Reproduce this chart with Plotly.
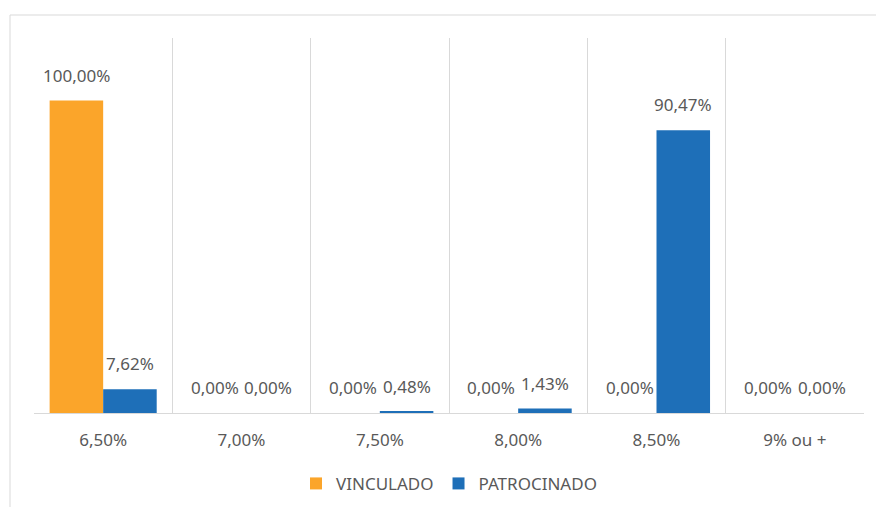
import plotly.graph_objects as go

categories = ["6,50%", "7,00%", "7,50%", "8,00%", "8,50%", "9% ou +"]
vinculado = [100.00, 0.00, 0.00, 0.00, 0.00, 0.00]
patrocinado = [7.62, 0.00, 0.48, 1.43, 90.47, 0.00]
series_names = ["VINCULADO", "PATROCINADO"]
colors = ["#FBA52A", "#1E6FB8"]

FONT = "Noto Sans"
FS = 17
TXT = "#595959"
GRID = "#D9D9D9"


def fmt(v):
    return f"{v:.2f}".replace(".", ",") + "%"


fig = go.Figure()
for name, vals, col in zip(series_names, [vinculado, patrocinado], colors):
    fig.add_trace(go.Bar(x=categories, y=vals, name=name, marker=dict(color=col, line=dict(width=0)),
                         hoverinfo="skip"))

annotations = []
for vals, shift in [(vinculado, -26.8), (patrocinado, 26.8)]:
    for c, v in zip(categories, vals):
        annotations.append(dict(x=c, y=v, xref="x", yref="y", text=fmt(v), showarrow=False,
                                xshift=shift, yshift=12, yanchor="bottom",
                                font=dict(family=FONT, size=FS, color=TXT)))

fig.update_layout(
    width=876, height=507,
    margin=dict(l=34, r=12, t=38, b=94, autoexpand=False),
    paper_bgcolor="white", plot_bgcolor="white",
    barmode="group", bargap=0.226, bargroupgap=0,
    font=dict(family=FONT, size=FS, color=TXT),
    annotations=annotations,
    showlegend=True,
    legend=dict(orientation="h", x=0.5, xanchor="center", y=-0.189, yanchor="middle",
                font=dict(family=FONT, size=FS, color=TXT), itemwidth=30),
    xaxis=dict(type="category", tickson="boundaries", showgrid=True, gridcolor=GRID, gridwidth=1,
               showline=True, linecolor=GRID, linewidth=1, ticks="", ticklabelstandoff=12,
               tickfont=dict(family=FONT, size=FS, color=TXT), zeroline=False, automargin=False),
    yaxis=dict(range=[0, 120], showgrid=False, showticklabels=False, zeroline=False, showline=False,
               automargin=False),
    shapes=[dict(type="rect", xref="paper", yref="paper", x0=-0.0289, x1=1.2, y0=-0.5, y1=1.0613,
                 line=dict(color=GRID, width=1), fillcolor="rgba(0,0,0,0)", layer="below")],
)

fig.write_html(
    "out.html",
    config={"displayModeBar": False},
    post_script="document.body.style.margin='0';document.body.style.overflow='hidden';"
                "document.documentElement.style.overflow='hidden';",
)
